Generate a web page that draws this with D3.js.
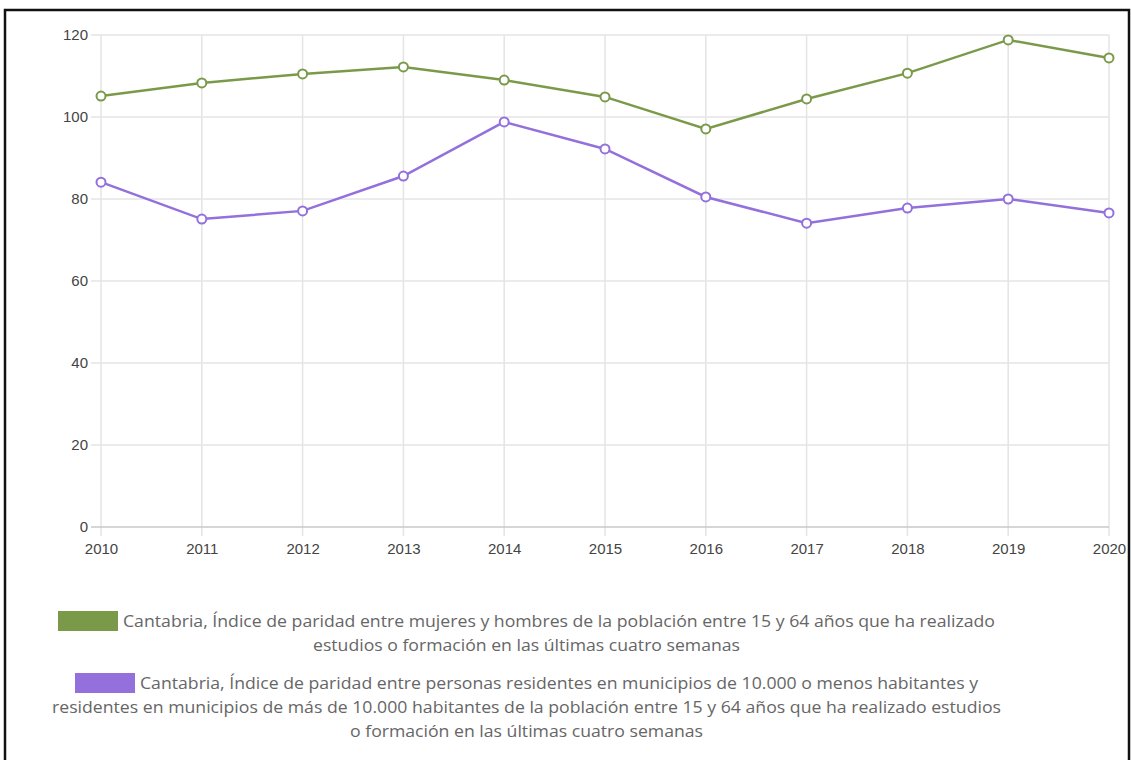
<!DOCTYPE html>
<html>
<head>
<meta charset="utf-8">
<script src="https://cdn.jsdelivr.net/npm/d3@7"></script>
<style>
  body { margin: 0; background: #fff; }
  .tick text { font-family: "Liberation Sans", Arial, sans-serif; font-size: 15px; fill: #444; }
  .legend text { font-family: "Open Sans", sans-serif; font-size: 17px; fill: #666; }
</style>
</head>
<body>
<div class="chart"></div>
<script>
  // data
  var years = [2010, 2011, 2012, 2013, 2014, 2015, 2016, 2017, 2018, 2019, 2020];
  var sexo = [105.1, 108.3, 110.5, 112.2, 109.0, 104.9, 97.1, 104.4, 110.7, 118.8, 114.4];
  var municipio = [84.1, 75.1, 77.1, 85.6, 98.8, 92.2, 80.5, 74.1, 77.8, 80.0, 76.6];
  var yTicks = [0, 20, 40, 60, 80, 100, 120];
  var seriesNames = ["sexo", "municipio"];
  var seriesColors = ["#7a9a4a", "#9370db"];
  var legendLines = [
    ["Cantabria, Índice de paridad entre mujeres y hombres de la población entre 15 y 64 años que ha realizado",
     "estudios o formación en las últimas cuatro semanas"],
    ["Cantabria, Índice de paridad entre personas residentes en municipios de 10.000 o menos habitantes y",
     "residentes en municipios de más de 10.000 habitantes de la población entre 15 y 64 años que ha realizado estudios",
     "o formación en las últimas cuatro semanas"]
  ];

  var width = 1131, height = 760;
  var svg = d3.select(".chart").append("svg")
    .attr("width", width)
    .attr("height", height);

  var x = d3.scaleLinear().domain([2010, 2020]).range([101, 1109]);
  var y = d3.scaleLinear().domain([0, 120]).range([527, 35]);

  // grid
  svg.append("g")
    .selectAll("line.v")
    .data(years)
    .enter().append("line")
    .attr("x1", function(d) { return x(d); })
    .attr("x2", function(d) { return x(d); })
    .attr("y1", y(120))
    .attr("y2", y(0) + 9)
    .attr("stroke", "#e4e4e4")
    .attr("stroke-width", 1.5);

  svg.append("g")
    .selectAll("line.h")
    .data(yTicks)
    .enter().append("line")
    .attr("x1", 91)
    .attr("x2", x(2020))
    .attr("y1", function(d) { return y(d); })
    .attr("y2", function(d) { return y(d); })
    .attr("stroke", function(d) { return d === 0 ? "#c8c8c8" : "#e4e4e4"; })
    .attr("stroke-width", 1.5);

  // axes (labels only, lines come from grid)
  var yAxis = svg.append("g")
    .attr("transform", "translate(" + 101 + ",0)")
    .call(d3.axisLeft(y).tickValues(yTicks).tickSize(10).tickPadding(3));
  yAxis.select(".domain").remove();
  yAxis.selectAll(".tick line").remove();

  var xAxis = svg.append("g")
    .attr("transform", "translate(0," + y(0) + ")")
    .call(d3.axisBottom(x).tickValues(years).tickFormat(d3.format("d")).tickSize(9).tickPadding(7));
  xAxis.select(".domain").remove();
  xAxis.selectAll(".tick line").remove();

  // lines
  var data = [sexo, municipio];
  var line = d3.line()
    .x(function(d, i) { return x(years[i]); })
    .y(function(d) { return y(d); });

  data.forEach(function(s, k) {
    svg.append("path")
      .datum(s)
      .attr("class", seriesNames[k])
      .attr("fill", "none")
      .attr("stroke", seriesColors[k])
      .attr("stroke-width", 2.5)
      .attr("d", line);

    svg.append("g")
      .selectAll("circle")
      .data(s)
      .enter().append("circle")
      .attr("cx", function(d, i) { return x(years[i]); })
      .attr("cy", function(d) { return y(d); })
      .attr("r", 4.5)
      .attr("fill", "#fff")
      .attr("stroke", seriesColors[k])
      .attr("stroke-width", 2);
  });

  // legend
  var legend = svg.append("g").attr("class", "legend");
  var firstY = [621, 683];
  var boxLeft = [58, 75];
  var boxTop = [611, 673];
  // left / right edges of each text line, as in the reference
  var lineSpans = [
    [[123, 995], [313, 740]],
    [[140, 978], [52, 1001], [350, 703]]
  ];

  legendLines.forEach(function(lines, k) {
    legend.append("rect")
      .attr("x", boxLeft[k])
      .attr("y", boxTop[k])
      .attr("width", 60)
      .attr("height", 20)
      .attr("fill", seriesColors[k]);

    lines.forEach(function(t, j) {
      var span = lineSpans[k][j];
      legend.append("text")
        .attr("x", span[0])
        .attr("y", firstY[k] + j * 24)
        .attr("dy", "0.35em")
        .attr("textLength", span[1] - span[0])
        .attr("lengthAdjust", "spacingAndGlyphs")
        .text(t);
    });
  });

  // frame
  svg.append("path")
    .attr("d", "M5," + height + "V10H1129V" + height)
    .attr("fill", "none")
    .attr("stroke", "#111")
    .attr("stroke-width", 2.5);
</script>
</body>
</html>
